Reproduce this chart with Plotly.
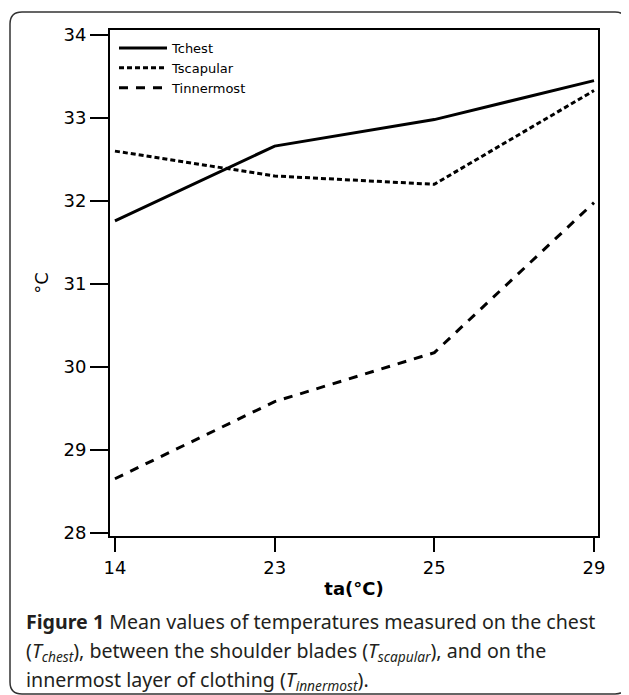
import plotly.graph_objects as go

# ---- data ----
ta_labels = ["14", "23", "25", "29"]
t_chest = [31.76, 32.66, 32.98, 33.45]
t_scapular = [32.60, 32.30, 32.20, 33.33]
t_innermost = [28.65, 29.58, 30.17, 31.98]
y_ticks = [28, 29, 30, 31, 32, 33, 34]

OFF = 8  # default page body margin
W, H = 629 - OFF, 695 - OFF
ML, MT = 110 - OFF, 30 - OFF
MR = W - (598 - OFF)
MB = H - (536 - OFF)
PW, PH = W - ML - MR, H - MT - MB


def px(x):  # reference-screen pixel -> paper
    return (x - OFF - ML) / PW


def py(y):
    return (H - MB - (y - OFF)) / PH


fig = go.Figure()
fig.add_trace(go.Scatter(x=ta_labels, y=t_chest, mode="lines", name="Tchest",
                         line=dict(color="black", width=3)))
fig.add_trace(go.Scatter(x=ta_labels, y=t_scapular, mode="lines", name="Tscapular",
                         line=dict(color="black", width=3, dash="5px,3px")))
fig.add_trace(go.Scatter(x=ta_labels, y=t_innermost, mode="lines", name="Tinnermost",
                         line=dict(color="black", width=3, dash="9px,8px")))

# outer rounded frame
x0, x1, y0, y1, r = 10, 627, 12, 694, 12
path = (f"M {px(x0 + r)},{py(y0)} L {px(x1 - r)},{py(y0)} "
        f"Q {px(x1)},{py(y0)} {px(x1)},{py(y0 + r)} "
        f"L {px(x1)},{py(y1 - r)} Q {px(x1)},{py(y1)} {px(x1 - r)},{py(y1)} "
        f"L {px(x0 + r)},{py(y1)} Q {px(x0)},{py(y1)} {px(x0)},{py(y1 - r)} "
        f"L {px(x0)},{py(y0 + r)} Q {px(x0)},{py(y0)} {px(x0 + r)},{py(y0)} Z")
fig.add_shape(type="path", path=path, xref="paper", yref="paper",
              line=dict(color="#333333", width=1.5), layer="below")

cap_font = dict(family="Noto Sans", size=19.6, color="#231f20")
captions = [
    "<b>Figure 1</b> Mean values of temperatures measured on the chest",
    "(<i>T<sub>chest</sub></i>), between the shoulder blades (<i>T<sub>scapular</sub></i>), and on the",
    "innermost layer of clothing (<i>T<sub>innermost</sub></i>).",
]
for txt, yy in zip(captions, [621, 651, 680]):
    fig.add_annotation(text=txt, xref="paper", yref="paper", x=px(24), y=py(yy),
                       xanchor="left", yanchor="middle", showarrow=False, font=cap_font)

axis_font = dict(family="DejaVu Sans", size=18, color="black")
fig.update_layout(
    width=W, height=H,
    margin=dict(l=ML, r=MR, t=MT, b=MB, pad=0),
    paper_bgcolor="white", plot_bgcolor="white",
    showlegend=True,
    legend=dict(x=px(114), y=py(33), xanchor="left", yanchor="top",
                bgcolor="rgba(0,0,0,0)", font=dict(family="DejaVu Sans", size=13, color="black"),
                itemwidth=48, tracegroupgap=0),
    xaxis=dict(type="category", range=[-0.031, 3.025], showgrid=False, zeroline=False,
               showline=True, linecolor="black", linewidth=2, mirror=True,
               ticks="outside", ticklen=14, tickwidth=2, tickcolor="black",
               tickfont=axis_font,
               title=dict(text="<b>ta(°C)</b>", font=dict(family="DejaVu Sans", size=18, color="black"),
                          standoff=6)),
    yaxis=dict(range=[27.96, 34.06], tickvals=y_ticks, showgrid=False, zeroline=False,
               showline=True, linecolor="black", linewidth=2, mirror=True,
               ticks="outside", ticklen=18, tickwidth=2, tickcolor="black",
               tickfont=axis_font,
               title=dict(text="°C", font=dict(family="DejaVu Sans", size=18, color="black"),
                          standoff=10)),
)

fig.write_html("out.html")
